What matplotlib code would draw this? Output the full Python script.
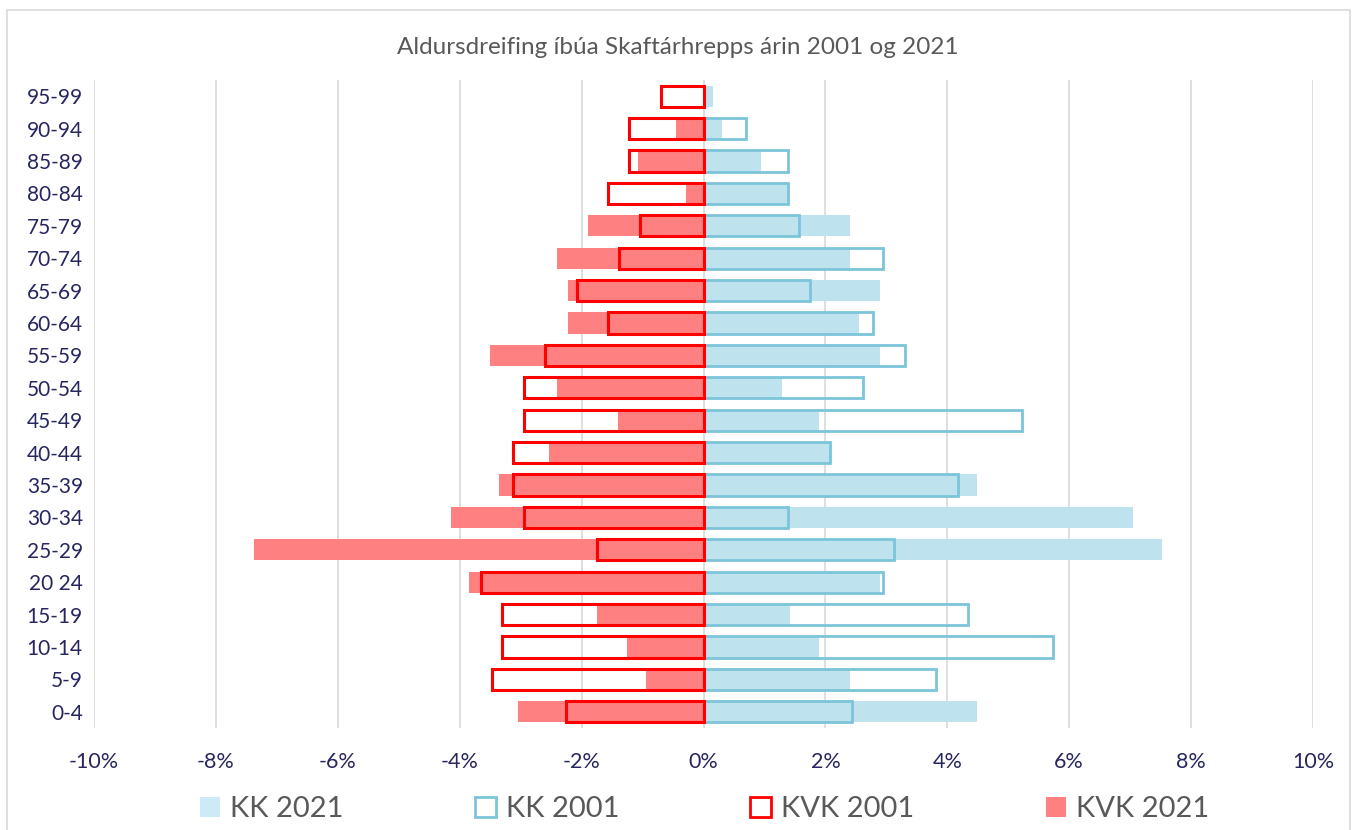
import matplotlib.pyplot as plt
from matplotlib.patches import Rectangle, Patch
from matplotlib.ticker import FuncFormatter

plt.rcParams['font.family'] = ['Lato', 'DejaVu Sans']

# aldurshópar, frá yngstu til elstu
groups = ['0-4', '5-9', '10-14', '15-19', '20 24', '25-29', '30-34', '35-39',
          '40-44', '45-49', '50-54', '55-59', '60-64', '65-69', '70-74',
          '75-79', '80-84', '85-89', '90-94', '95-99']

# hlutfall (%) af íbúum
kk_2021 = [4.48, 2.40, 1.90, 1.42, 2.90, 7.53, 7.05, 4.48, 2.07, 1.90,
           1.28, 2.90, 2.55, 2.90, 2.40, 2.40, 1.40, 0.95, 0.30, 0.15]
kk_2001 = [2.44, 3.82, 5.74, 4.34, 2.95, 3.13, 1.39, 4.17, 2.08, 5.22,
           2.61, 3.31, 2.78, 1.74, 2.95, 1.56, 1.39, 1.39, 0.69, 0.0]
kvk_2001 = [-2.26, -3.47, -3.30, -3.30, -3.65, -1.74, -2.95, -3.13, -3.13, -2.95,
            -2.95, -2.60, -1.56, -2.08, -1.39, -1.04, -1.56, -1.22, -1.22, -0.70]
kvk_2021 = [-3.04, -0.94, -1.25, -1.74, -3.84, -7.37, -4.15, -3.35, -2.54, -1.40,
            -2.40, -3.50, -2.23, -2.23, -2.40, -1.90, -0.28, -1.08, -0.45, 0.0]

fill_blue = '#BEE3EF'
edge_blue = '#7CC4DA'
fill_red = '#FF8080'
edge_red = '#FF0000'
text_dark = '#262660'

fig = plt.figure(figsize=(13.55, 8.3), dpi=100)
ax = fig.add_axes([94 / 1355, 1 - 728 / 830, (1313 - 94) / 1355, (728 - 80) / 830])

y = list(range(len(groups)))
h = 0.66

ax.barh(y, kk_2021, height=h, color=fill_blue, zorder=2)
ax.barh(y, kk_2001, height=h, facecolor='none', edgecolor=edge_blue, linewidth=2, zorder=3)
ax.barh(y, kvk_2021, height=h, color=fill_red, zorder=2)
ax.barh(y, kvk_2001, height=h, facecolor='none', edgecolor=edge_red, linewidth=2.2, zorder=3)

ax.set_xlim(-10, 10)
ax.set_ylim(-0.5, len(groups) - 0.5)
ax.set_xticks(range(-10, 11, 2))
ax.xaxis.set_major_formatter(FuncFormatter(lambda v, p: f'{int(v)}%'))
ax.set_yticks(y)
ax.set_yticklabels(groups)
ax.grid(axis='x', color='#D9D9D9', linewidth=1.2, zorder=0)
for s in ax.spines.values():
    s.set_visible(False)
ax.tick_params(axis='both', length=0, labelcolor=text_dark)
ax.tick_params(axis='x', pad=17, labelsize=15.5)
ax.tick_params(axis='y', pad=8, labelsize=15)

fig.text(0.5, 1 - 47 / 830, 'Aldursdreifing íbúa Skaftárhrepps árin 2001 og 2021',
         ha='center', va='center', fontsize=17.5, color='#595959')

handles = [Patch(facecolor='#CCEBF7', edgecolor='none', label='KK 2021'),
           Patch(facecolor='white', edgecolor=edge_blue, linewidth=2, label='KK 2001'),
           Patch(facecolor='white', edgecolor=edge_red, linewidth=2, label='KVK 2001'),
           Patch(facecolor=fill_red, edgecolor='none', label='KVK 2021')]
fig.legend(handles=handles, loc='center', bbox_to_anchor=(0.52, 1 - 809 / 830), ncol=4,
           frameon=False, fontsize=21, labelcolor='#595959', columnspacing=4.5,
           handlelength=0.7, handleheight=0.7, handletextpad=0.35)

fig.patches.append(Rectangle((7 / 1355, -0.01), (1350 - 7) / 1355, 1 - 10 / 830 + 0.01,
                             transform=fig.transFigure, fill=False,
                             edgecolor='#D9D9D9', linewidth=1.2))

fig.savefig('out.png', dpi=100)
